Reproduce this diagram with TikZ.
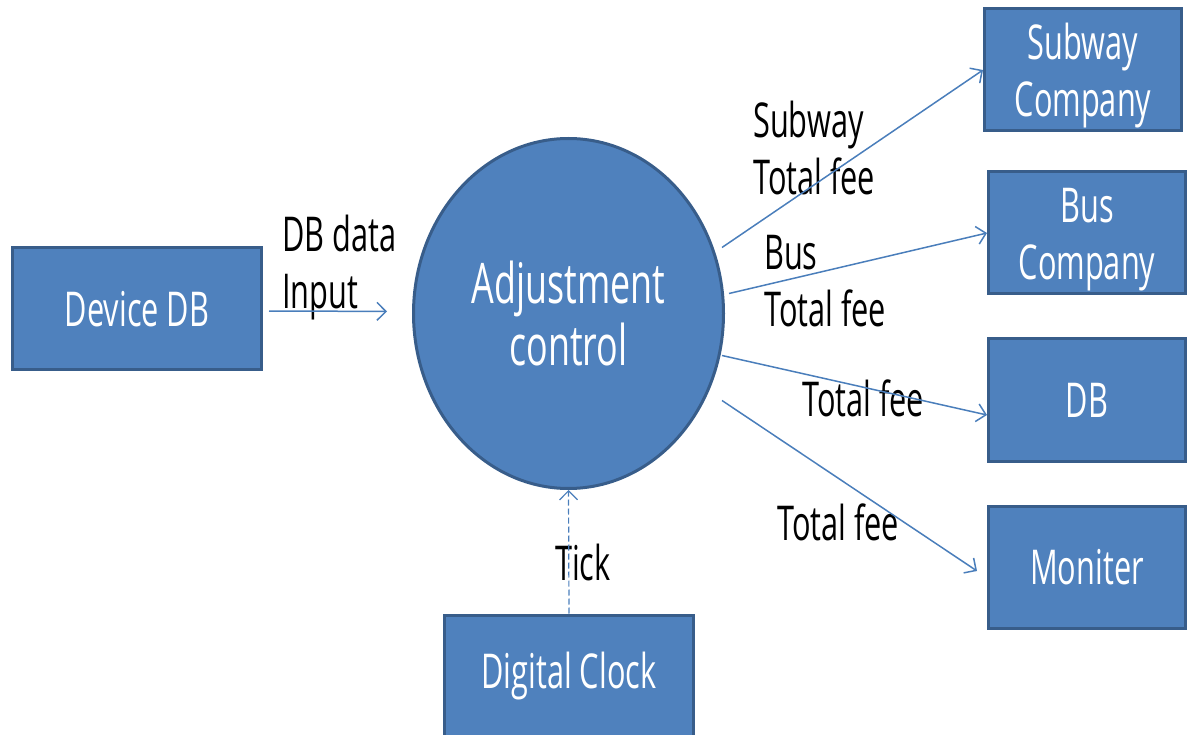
\documentclass[tikz,border=0pt]{standalone}
\usepackage{fontspec}
\setmainfont{Open Sans}[FakeStretch=0.64]
\usetikzlibrary{positioning,arrows.meta,shapes.geometric}
\definecolor{boxblue}{HTML}{4F81BD}
\definecolor{boxedge}{HTML}{385D8A}
\definecolor{lineblue}{HTML}{4A7EBB}
\tikzset{
  blk/.style ={rectangle, draw=boxedge, line width=3pt, fill=boxblue,
               text=white, align=center, inner sep=0pt,
               font=\fontsize{48}{57}\selectfont,
               minimum width=249pt, minimum height=122pt},
  sink/.style={blk, minimum width=197pt},
  twoline/.style={text height=105pt},
  proc/.style={ellipse, draw=boxedge, line width=3pt, fill=boxblue,
               text=white, align=center, inner sep=0pt,
               font=\fontsize{56}{62}\selectfont,
               minimum width=310pt, minimum height=350pt},
  lbl/.style ={align=left, inner sep=0pt, font=\fontsize{48}{57}\selectfont},
  arr/.style ={-{Straight Barb[length=9pt,width=18pt]}, line width=1.5pt,
               draw=lineblue},
}

\begin{document}
\begin{tikzpicture}[x=1pt, y=-1pt, node distance=40pt]
  \useasboundingbox (0,0) rectangle (1195,735);

  % source
  \node[blk] (dev) at (137,309) {Device DB};

  % process
  \node[proc] (adj) at (568.5,313.5) {Adjustment\\control};

  % clock
  \node[blk] (clock) at (569,676) {Digital Clock};

  % sinks
  \node[sink, twoline] (subway) at (1083,70) {Subway\\Company};
  \node[sink, twoline, below=38pt of subway, xshift=4pt] (bus) {Bus\\Company};
  \node[sink, below=42pt of bus] (db) {DB};
  \node[sink, below=42pt of db] (mon) {Moniter};

  % flow labels
  \node[lbl, anchor=west] (dbin) at (282,268) {DB data\\Input};
  \node[lbl, anchor=west] (subfee) at (753,148) {Subway\\Total fee};
  \node[lbl, anchor=west] (busfee) at (764,281) {Bus\\Total fee};
  \node[lbl, anchor=base west] (dbfee) at (802,417) {Total fee};
  \node[lbl, anchor=base west] (monfee) at (777,540) {Total fee};
  \node[lbl, anchor=base west] (tick) at (555,580) {Tick};

  % arrows
  \draw[arr, shorten <=6pt, shorten >=25pt] ([yshift=-2pt]dev.east) -- ([yshift=2pt]adj.west);
  \draw[arr] ([shift={(-3pt,66pt)}]adj.east) -- (subway.west);
  \draw[arr] ([shift={(4pt,20pt)}]adj.east) -- (bus.west);
  \draw[arr] ([shift={(-3pt,-42pt)}]adj.east) -- ([yshift=-15pt]db.west);
  \draw[arr] ([shift={(-3pt,-87pt)}]adj.east) -- ([shift={(-10pt,-4pt)}]mon.west);
  \draw[arr, line width=1.2pt, dash pattern=on 6pt off 3pt] (clock.north) -- (adj.south);
\end{tikzpicture}
\end{document}
